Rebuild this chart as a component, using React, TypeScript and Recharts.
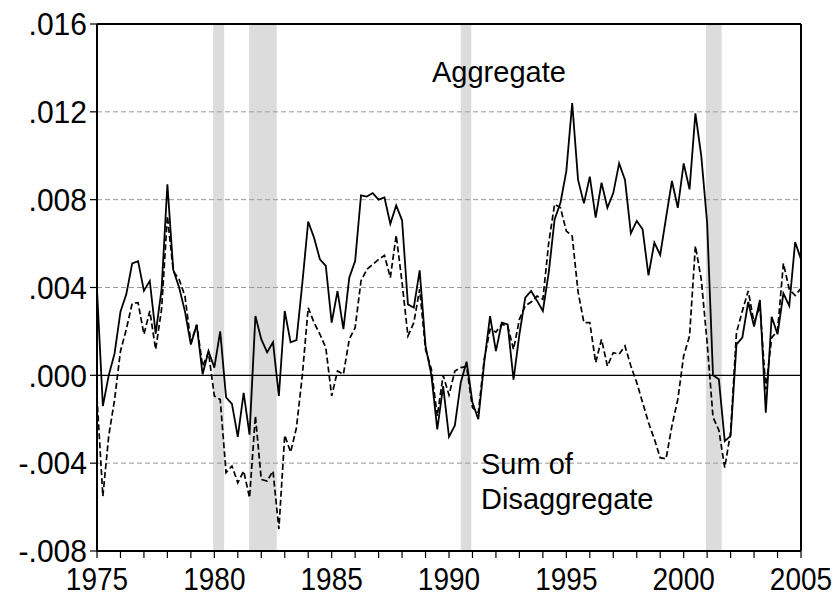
import React from "react";
import {
  LineChart,
  Line,
  XAxis,
  YAxis,
  ReferenceArea,
  ReferenceLine,
} from "recharts";

// quarterly, 1975Q1 .. 2005Q1, in units of 0.001
const startYear = 1975;

const aggregate = [
  3.9, -1.4, 0.0, 1.0, 2.9, 3.7, 5.1, 5.2, 3.85, 4.3, 1.9, 3.9, 8.7, 4.8, 4.0, 2.9,
  1.4, 2.3, 0.05, 1.1, 0.35, 2.0, -1.0, -1.3, -2.8, -0.8, -2.7, 2.7, 1.65, 1.05, 1.5, -0.94,
  2.93, 1.5, 1.6, 4.2, 7.0, 6.27, 5.28, 4.98, 2.4, 3.84, 2.1, 4.45, 5.2, 8.2, 8.14, 8.3,
  8.0, 8.1, 6.9, 7.74, 7.06, 3.23, 3.08, 4.78, 1.34, 0.0, -2.46, -0.49, -2.8, -2.28, -0.33, 0.62,
  -1.24, -2.0, 0.58, 2.7, 1.1, 2.4, 2.32, -0.2, 1.87, 3.54, 3.84, 3.4, 2.93, 4.68, 7.1, 7.86,
  9.3, 12.4, 8.9, 7.83, 9.05, 7.18, 8.77, 7.63, 8.3, 9.65, 8.9, 6.47, 7.03, 6.65, 4.55, 6.04,
  5.48, 7.18, 8.85, 7.63, 9.65, 8.47, 11.93, 9.99, 6.95, 0.0, -0.18, -3.0, -2.76, 1.41, 1.72, 3.34,
  2.22, 3.43, -1.7, 2.67, 1.87, 3.73, 3.16, 6.07, 5.28,
];

const sumDisaggregate = [
  -1.0, -5.5, -2.76, -1.1, 1.1, 2.1, 3.28, 3.31, 1.87, 2.93, 1.18, 3.0, 7.25, 4.75, 4.37, 3.6,
  1.5, 2.3, 0.42, 1.05, -0.94, -1.1, -4.43, -4.13, -4.89, -4.36, -5.57, -1.85, -4.74, -4.81, -4.36, -7.0,
  -2.73, -3.5, -2.38, 0.0, 3.08, 2.4, 1.87, 1.26, -0.94, 0.2, 0.05, 1.64, 2.17, 4.3, 4.83, 5.05,
  5.28, 5.46, 4.45, 6.38, 4.22, 1.79, 2.4, 3.92, 1.18, 0.27, -1.85, 0.0, -0.9, 0.2, 0.35, 0.4,
  -1.47, -1.7, 0.73, 2.1, 1.97, 2.32, 2.25, 1.18, 2.55, 3.16, 3.34, 3.61, 3.46, 6.04, 7.79, 7.63,
  6.57, 6.34, 3.8, 2.4, 2.4, 0.58, 1.64, 0.42, 1.03, 0.96, 1.34, 0.42, -0.33, -1.24, -2.15, -2.9,
  -3.75, -3.8, -2.3, -1.1, 0.88, 1.79, 5.89, 4.37, 1.49, -1.9, -2.5, -4.2, -2.6, 1.94, 2.93, 3.84,
  2.4, 3.16, -0.64, 1.72, 2.02, 5.1, 3.92, 3.64, 3.96,
];

const recessions = [
  [1979.95, 1980.42],
  [1981.48, 1982.66],
  [1990.5, 1990.95],
  [2000.95, 2001.62],
];

const yTicks = [-0.008, -0.004, 0, 0.004, 0.008, 0.012, 0.016];
const gridValues = [-0.004, 0.004, 0.008, 0.012];
const xTicks = Array.from({ length: 31 }, (_, i) => startYear + i);

const data = aggregate.map((a, i) => ({
  t: startYear + i / 4,
  agg: a / 1000,
  dis: sumDisaggregate[i] / 1000,
}));

const font = "'Liberation Sans', Arial, Helvetica, sans-serif";

const fmtY = (v: number) => v.toFixed(3).replace("0.", ".");

// year labels: slightly taller glyphs like the original
function XTick(props: any) {
  const { x, y, payload } = props;
  if (payload.value % 5 !== 0) return null;
  return (
    <text
      x={x}
      y={y}
      textAnchor="middle"
      dy="0.71em"
      fontSize={28}
      fontFamily={font}
      fill="#000"
      transform={`translate(${x},${y}) scale(1,1.13) translate(${-x},${-y})`}
    >
      {payload.value}
    </text>
  );
}

function YTick(props: any) {
  const { x, y, payload } = props;
  return (
    <text
      x={x}
      y={y}
      textAnchor="end"
      dy="0.355em"
      fontSize={30}
      fontFamily={font}
      fill="#000"
      transform={`translate(${x},${y}) scale(1,1.05) translate(${-x},${-y})`}
    >
      {fmtY(payload.value)}
    </text>
  );
}

export default function App() {
  return (
    <div style={{ position: "absolute", left: 0, top: 0, width: 838, height: 601, background: "#fff", fontFamily: font }}>
      <LineChart
        width={838}
        height={601}
        data={data}
        margin={{ top: 24, right: 37, bottom: 0, left: 0 }}
      >
        {recessions.map(([a, b], i) => (
          <ReferenceArea key={i} x1={a} x2={b} y1={-0.008} y2={0.016} fill="#dcdcdc" fillOpacity={1} stroke="none" />
        ))}
        {gridValues.map((v) => (
          <ReferenceLine key={v} y={v} stroke="#9a9a9a" strokeWidth={1} strokeDasharray="5 3" />
        ))}
        <ReferenceLine y={0} stroke="#000" strokeWidth={1.4} />
        <XAxis
          type="number"
          dataKey="t"
          domain={[1975, 2005]}
          ticks={xTicks}
          interval={0}
          height={50}
          tickSize={7}
          tickMargin={10}
          axisLine={{ stroke: "#000", strokeWidth: 2 }}
          tickLine={{ stroke: "#000", strokeWidth: 1.2 }}
          tick={<XTick />}
          allowDataOverflow
        />
        <YAxis
          type="number"
          domain={[-0.008, 0.016]}
          ticks={yTicks}
          interval={0}
          width={97}
          tickSize={7}
          tickMargin={3}
          axisLine={{ stroke: "#000", strokeWidth: 2 }}
          tickLine={{ stroke: "#000", strokeWidth: 1.2 }}
          tick={<YTick />}
          allowDataOverflow
        />
        <ReferenceLine y={0.016} stroke="#000" strokeWidth={2} />
        <ReferenceLine x={2005} stroke="#000" strokeWidth={2} />
        <Line type="linear" dataKey="dis" stroke="#000" strokeWidth={1.7} strokeDasharray="6 3" dot={false} isAnimationActive={false} />
        <Line type="linear" dataKey="agg" stroke="#000" strokeWidth={1.8} dot={false} isAnimationActive={false} />
      </LineChart>
      <svg width={838} height={601} style={{ position: "absolute", left: 0, top: 0, pointerEvents: "none" }}>
        <text x={432} y={82} fontSize={29} fontFamily={font} fill="#000">Aggregate</text>
        <text x={481} y={474} fontSize={29} fontFamily={font} fill="#000">Sum of</text>
        <text x={481} y={509} fontSize={29} fontFamily={font} fill="#000">Disaggregate</text>
      </svg>
    </div>
  );
}
